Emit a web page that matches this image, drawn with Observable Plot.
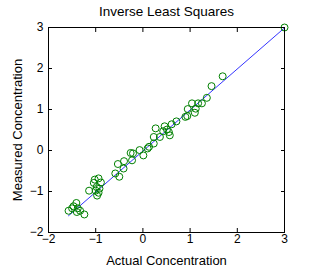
<!DOCTYPE html>
<html><head><meta charset="utf-8">
<script src="https://cdn.jsdelivr.net/npm/d3@7"></script>
<script src="https://cdn.jsdelivr.net/npm/@observablehq/plot@0.6"></script>
<style>body{margin:0;background:#fff} svg{display:block}</style>
</head><body><div id="chart"></div>
<script>
const title = "Inverse Least Squares";
const xLabel = "Actual Concentration";
const yLabel = "Measured Concentration";
const xTicks = [-2, -1, 0, 1, 2, 3];
const yTicks = [-2, -1, 0, 1, 2, 3];
const actual = [-1.575, -1.50, -1.47, -1.41, -1.38, -1.40, -1.33, -1.24,
  -1.14, -1.04, -1.02, -1.00, -0.98, -0.97, -0.94, -0.94, -0.92, -0.89,
  -0.585, -0.53, -0.50, -0.41, -0.40, -0.23, -0.26, -0.21, -0.07, 0.01,
  0.10, 0.13, 0.23, 0.23, 0.36, 0.27, 0.43, 0.46, 0.51, 0.55, 0.57, 0.61, 0.71,
  0.90, 0.94, 0.95, 1.04, 1.10, 1.12, 1.17, 1.25, 1.355, 1.454, 1.69, 3.0];
const measured = [-1.47, -1.41, -1.36, -1.28, -1.41, -1.50, -1.47, -1.56,
  -0.98, -0.79, -0.71, -0.98, -0.89, -1.10, -1.03, -0.68, -0.93, -0.78,
  -0.56, -0.33, -0.64, -0.44, -0.26, -0.24, -0.06, -0.07, 0.01, -0.12,
  0.05, 0.09, 0.17, 0.33, 0.33, 0.54, 0.47, 0.59, 0.51, 0.45, 0.37, 0.64, 0.71,
  0.82, 0.84, 1.01, 1.15, 0.92, 1.02, 1.15, 1.15, 1.285, 1.57, 1.81, 3.0];
const fitX = [-1.575, 3.0];
const fitY = [-1.59, 2.99];

const pts = actual.map((x, i) => ({x, y: measured[i]}));
const fit = fitX.map((x, i) => ({x, y: fitY[i]}));
const font = "Liberation Sans, Arial, sans-serif";

const chart = Plot.plot({
  width: 309, height: 277,
  marginLeft: 48, marginRight: 25, marginTop: 27, marginBottom: 45,
  style: {fontFamily: font, fontSize: "12px", color: "black", background: "white"},
  x: {domain: [-2, 3]},
  y: {domain: [-2, 3]},
  marks: [
    Plot.frame({stroke: "black", strokeWidth: 1}),
    Plot.line(fit, {x: "x", y: "y", stroke: "#0000ff", strokeWidth: 0.8}),
    Plot.dot(pts, {x: "x", y: "y", r: 3.5, stroke: "#008000", strokeWidth: 1, fill: "none"}),
    Plot.axisX(xTicks, {anchor: "bottom", tickSize: -4, tickFormat: () => "", label: null}),
    Plot.axisX(xTicks, {anchor: "top", tickSize: -4, tickFormat: () => "", label: null}),
    Plot.axisY(yTicks, {anchor: "left", tickSize: -4, tickFormat: () => "", label: null}),
    Plot.axisY(yTicks, {anchor: "right", tickSize: -4, tickFormat: () => "", label: null}),
    Plot.axisX(xTicks, {anchor: "bottom", tickSize: 0, tickPadding: 2, fontSize: 12, label: null}),
    Plot.axisY(yTicks, {anchor: "left", tickSize: 0, tickPadding: 5, fontSize: 12, label: null}),
    Plot.axisX([], {anchor: "bottom", tickSize: 0, fontSize: 13, label: xLabel, labelAnchor: "center", labelArrow: "none", labelOffset: 32}),
    Plot.axisY([], {anchor: "left", tickSize: 0, fontSize: 13, label: yLabel, labelAnchor: "center", labelArrow: "none", labelOffset: 36}),
    Plot.text([title], {frameAnchor: "top", dy: -21, fontSize: 13.5, fill: "black"})
  ]
});
document.getElementById("chart").appendChild(chart);
</script></body></html>
